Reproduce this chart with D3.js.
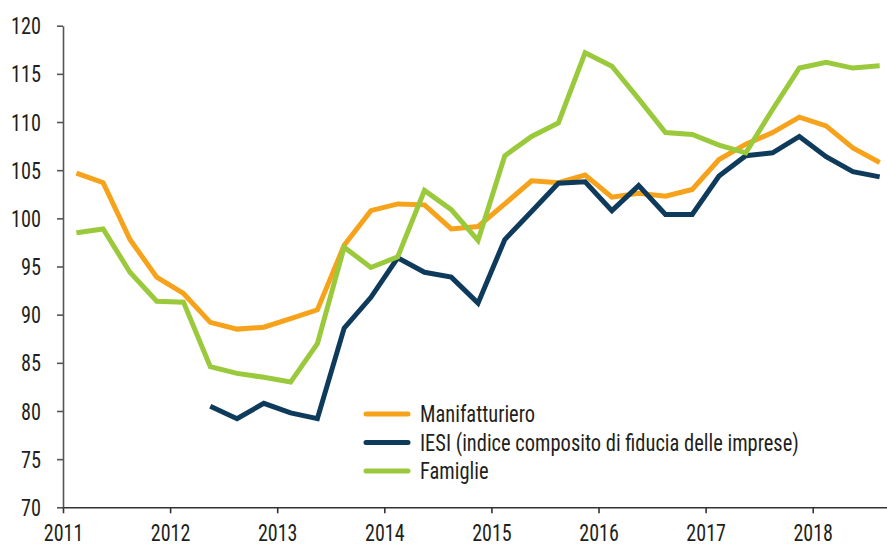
<!DOCTYPE html>
<html>
<head>
<meta charset="utf-8">
<script src="https://cdn.jsdelivr.net/npm/d3@7"></script>
<style>
  html, body { margin: 0; padding: 0; background: #fff; }
  svg { display: block; }
  text { font-family: "Liberation Sans Narrow", "Roboto Condensed", Roboto, "Liberation Sans", sans-serif; fill: #231f20; }
</style>
</head>
<body>
<svg id="chart" width="887" height="547"></svg>
<script>
const quarters = [
  "2011Q1","2011Q2","2011Q3","2011Q4",
  "2012Q1","2012Q2","2012Q3","2012Q4",
  "2013Q1","2013Q2","2013Q3","2013Q4",
  "2014Q1","2014Q2","2014Q3","2014Q4",
  "2015Q1","2015Q2","2015Q3","2015Q4",
  "2016Q1","2016Q2","2016Q3","2016Q4",
  "2017Q1","2017Q2","2017Q3","2017Q4",
  "2018Q1","2018Q2","2018Q3"
];
const manifatturiero = [
  104.7, 103.7, 97.8, 93.9,
  92.2, 89.2, 88.5, 88.7,
  89.6, 90.5, 97.2, 100.8,
  101.5, 101.4, 98.9, 99.15,
  101.5, 103.9, 103.7, 104.5,
  102.2, 102.6, 102.3, 103.0,
  106.1, 107.7, 108.9, 110.5,
  109.6, 107.3, 105.8
];
const iesi = [
  null, null, null, null,
  null, 80.5, 79.2, 80.8,
  79.8, 79.2, 88.6, 91.8,
  95.9, 94.4, 93.9, 91.2,
  97.8, 100.7, 103.65, 103.8,
  100.8, 103.4, 100.4, 100.4,
  104.4, 106.5, 106.8, 108.5,
  106.4, 104.85, 104.3
];
const famiglie = [
  98.5, 98.9, 94.4, 91.4,
  91.3, 84.6, 83.9, 83.5,
  83.0, 87.0, 97.0, 94.9,
  96.0, 102.9, 100.9, 97.7,
  106.5, 108.5, 109.9, 117.2,
  115.8, 112.4, 108.9, 108.7,
  107.6, 106.8, 111.3, 115.6,
  116.2, 115.6, 115.85
];
const seriesNames = ["Manifatturiero", "IESI (indice composito di fiducia delle imprese)", "Famiglie"];
const seriesColors = ["#F7A21B", "#0E3B5C", "#9ACA3C"];
const yTicks = [70, 75, 80, 85, 90, 95, 100, 105, 110, 115, 120];
const xTicks = [2011, 2012, 2013, 2014, 2015, 2016, 2017, 2018];

const svg = d3.select("#chart");

const qToYear = q => +q.slice(0, 4) + (+q.slice(5) - 1) / 4 + 0.125;

const x = d3.scaleLinear().domain([2011, 2018.7]).range([63, 887.7]);
const y = d3.scaleLinear().domain([70, 120]).range([507.3, 25.7]);

// condense text horizontally to mimic a narrow typeface
function condense(sel, k) {
  sel.each(function () {
    const len = this.getComputedTextLength();
    d3.select(this).attr("textLength", len * k).attr("lengthAdjust", "spacingAndGlyphs");
  });
}

// Y axis
const yAxis = svg.append("g")
  .attr("transform", `translate(${x(2011)},0)`)
  .call(d3.axisLeft(y).tickValues(yTicks).tickSize(6).tickPadding(16).tickSizeOuter(0));
yAxis.select(".domain").attr("stroke", "#555").attr("stroke-width", 1.6);
yAxis.selectAll(".tick line").attr("stroke", "#555").attr("stroke-width", 1.6);
yAxis.selectAll(".tick text").style("font-size", "23px").attr("fill", "#231f20").attr("dy", "0.35em")
  .call(condense, 0.88);

// X axis
const xAxis = svg.append("g")
  .attr("transform", `translate(0,${y(70)})`)
  .call(d3.axisBottom(x).tickValues(xTicks).tickFormat(d3.format("d")).tickSize(6).tickPadding(11).tickSizeOuter(0));
xAxis.select(".domain").attr("stroke", "#333").attr("stroke-width", 1.6);
xAxis.selectAll(".tick line").attr("stroke", "#333").attr("stroke-width", 1.6);
xAxis.selectAll(".tick text").style("font-size", "23px").attr("fill", "#231f20")
  .call(condense, 0.87);

// Lines
const allSeries = [manifatturiero, iesi, famiglie];
const line = d3.line()
  .defined(d => d.v !== null)
  .x(d => x(qToYear(d.q)))
  .y(d => y(d.v));

[0, 1, 2].forEach(i => {
  const data = quarters.map((q, j) => ({ q, v: allSeries[i][j] }));
  svg.append("path")
    .datum(data)
    .attr("fill", "none")
    .attr("stroke", seriesColors[i])
    .attr("stroke-width", 5)
    .attr("stroke-linejoin", "miter")
    .attr("stroke-linecap", "butt")
    .attr("d", line);
});

// Legend
const legend = svg.append("g").attr("transform", "translate(366,414)");
seriesNames.forEach((name, i) => {
  const g = legend.append("g").attr("transform", `translate(0,${i * 28.5})`);
  g.append("line")
    .attr("x1", 0).attr("x2", 42).attr("y1", 0).attr("y2", 0)
    .attr("stroke", seriesColors[i]).attr("stroke-width", 5).attr("stroke-linecap", "round");
  g.append("text")
    .attr("x", 54).attr("y", 0).attr("dy", "0.35em")
    .style("font-size", "23px")
    .text(name)
    .call(condense, 0.89);
});
</script>
</body>
</html>
